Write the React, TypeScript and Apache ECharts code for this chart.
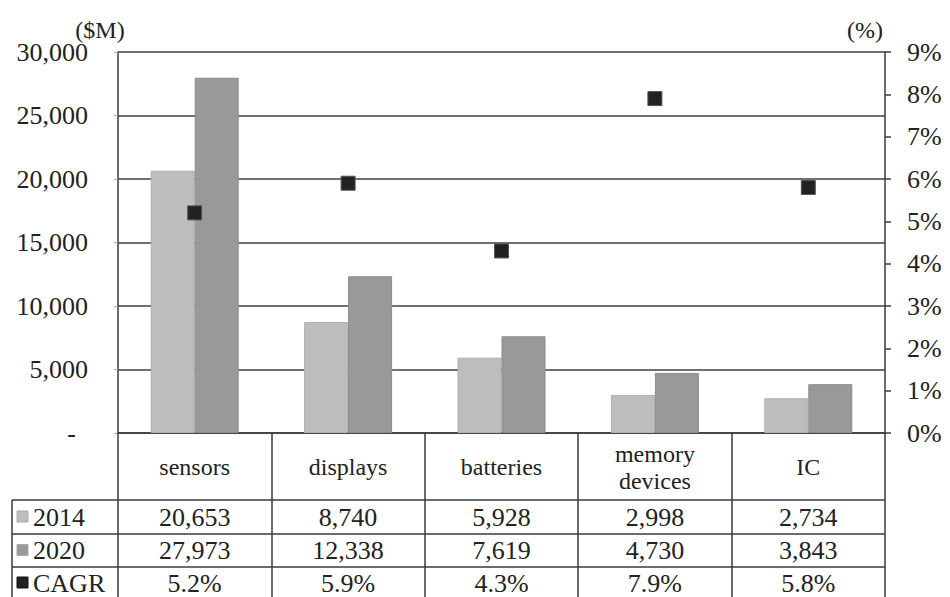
import React, { useEffect, useRef } from "react";
import * as echarts from "echarts";

const categories = ["sensors", "displays", "batteries", "memory\ndevices", "IC"];
const values2014 = [20653, 8740, 5928, 2998, 2734];
const values2020 = [27973, 12338, 7619, 4730, 3843];
const cagr = [5.2, 5.9, 4.3, 7.9, 5.8];
const rowLabels = ["2014", "2020", "CAGR"];

const FONT = '"Liberation Serif", "Times New Roman", serif';
const FS = 26;
const C2014 = "#bdbdbd";
const C2020 = "#999999";
const CCAGR = "#222222";
const LINE = "#3a3a3a";

const GRID = { left: 118, right: 65, top: 52, bottom: 164 };

export default function App() {
  const ref = useRef<HTMLDivElement>(null);
  useEffect(() => {
    if (!ref.current) return;
    const chart = echarts.init(ref.current, null, { renderer: "svg" });
    const option: any = {
      animation: false,
      backgroundColor: "#ffffff",
      textStyle: { fontFamily: FONT },
      grid: { ...GRID, containLabel: false },
      xAxis: {
        type: "category",
        data: categories,
        boundaryGap: true,
        axisLine: { show: true, lineStyle: { color: LINE, width: 1.5 } },
        axisTick: { show: true, length: 164, alignWithLabel: false, lineStyle: { color: LINE, width: 1.5 } },
        axisLabel: {
          interval: 0,
          margin: 34,
          color: "#222",
          fontFamily: FONT,
          fontSize: 24,
          lineHeight: 27,
          verticalAlign: "middle",
        },
      },
      yAxis: [
        {
          type: "value",
          min: 0,
          max: 30000,
          interval: 5000,
          axisLine: { show: true, lineStyle: { color: LINE, width: 1.5 } },
          axisTick: { show: true, length: 4, lineStyle: { color: "#aaa" } },
          splitLine: { show: true, lineStyle: { color: "#404040", width: 1.5 } },
          axisLabel: {
            margin: 30,
            color: "#222",
            fontFamily: FONT,
            fontSize: FS,
            formatter: (v: number) => (v === 0 ? "{d|-}" : v.toLocaleString("en-US")),
            rich: { d: { fontFamily: FONT, fontSize: FS, color: "#222", padding: [0, 12, 0, 0] } },
          },
        },
        {
          type: "value",
          min: 0,
          max: 9,
          interval: 1,
          position: "right",
          axisLine: { show: true, lineStyle: { color: LINE, width: 1.5 } },
          axisTick: { show: true, length: 6, lineStyle: { color: LINE, width: 1.5 } },
          splitLine: { show: false },
          axisLabel: {
            margin: 22,
            color: "#222",
            fontFamily: FONT,
            fontSize: FS,
            formatter: (v: number) => v + "%",
          },
        },
      ],
      series: [
        {
          name: "2014",
          type: "bar",
          data: values2014,
          barWidth: 44,
          barGap: "0%",
          itemStyle: { color: C2014, borderColor: "#b0b0b0", borderWidth: 1 },
        },
        {
          name: "2020",
          type: "bar",
          data: values2020,
          barWidth: 44,
          barGap: "0%",
          itemStyle: { color: C2020, borderColor: "#8c8c8c", borderWidth: 1 },
        },
        {
          name: "CAGR",
          type: "scatter",
          yAxisIndex: 1,
          data: cagr,
          symbol: "rect",
          symbolSize: 14,
          itemStyle: { color: CCAGR, borderColor: "#555", borderWidth: 1, opacity: 1 },
          z: 5,
        },
      ],
    };
    chart.setOption(option);

    const xs = categories.map((_, i) => chart.convertToPixel({ xAxisIndex: 0 }, i) as number);
    const width = 950;
    const right = width - GRID.right;
    const tableLeft = 12;
    const lineYs = [500, 534, 567];
    const rowCenters = [517, 550.5, 583];
    const rowColors = [C2014, C2020, CCAGR];
    const rowTexts = [
      values2014.map((v) => v.toLocaleString("en-US")),
      values2020.map((v) => v.toLocaleString("en-US")),
      cagr.map((v) => v.toFixed(1) + "%"),
    ];
    const g: any[] = [];
    lineYs.forEach((y) =>
      g.push({ type: "line", shape: { x1: tableLeft, y1: y, x2: right, y2: y }, style: { stroke: LINE, lineWidth: 1.5 } })
    );
    g.push({ type: "line", shape: { x1: tableLeft, y1: 500, x2: tableLeft, y2: 597 }, style: { stroke: LINE, lineWidth: 1.5 } });
    rowLabels.forEach((lab, r) => {
      g.push({
        type: "rect",
        shape: { x: 17, y: rowCenters[r] - 6, width: 11, height: 11 },
        style: { fill: rowColors[r], stroke: r === 2 ? "#111" : "#aaa", lineWidth: 1 },
      });
      g.push({
        type: "text",
        x: 33,
        y: rowCenters[r],
        style: { text: lab, fontFamily: FONT, fontSize: FS, fill: "#222", align: "left", verticalAlign: "middle" },
      });
      rowTexts[r].forEach((t, i) => {
        g.push({
          type: "text",
          x: xs[i],
          y: rowCenters[r],
          style: { text: t, fontFamily: FONT, fontSize: FS, fill: "#222", align: "center", verticalAlign: "middle" },
        });
      });
    });
    g.push({
      type: "text",
      x: 100,
      y: 30,
      style: { text: "($M)", fontFamily: FONT, fontSize: 24, fill: "#222", align: "center", verticalAlign: "middle" },
    });
    g.push({
      type: "text",
      x: 865,
      y: 30,
      style: { text: "(%)", fontFamily: FONT, fontSize: 24, fill: "#222", align: "center", verticalAlign: "middle" },
    });
    chart.setOption({ graphic: g });

    return () => chart.dispose();
  }, []);
  return <div ref={ref} style={{ width: 950, height: 597, position: "fixed", left: 0, top: 0 }} />;
}
